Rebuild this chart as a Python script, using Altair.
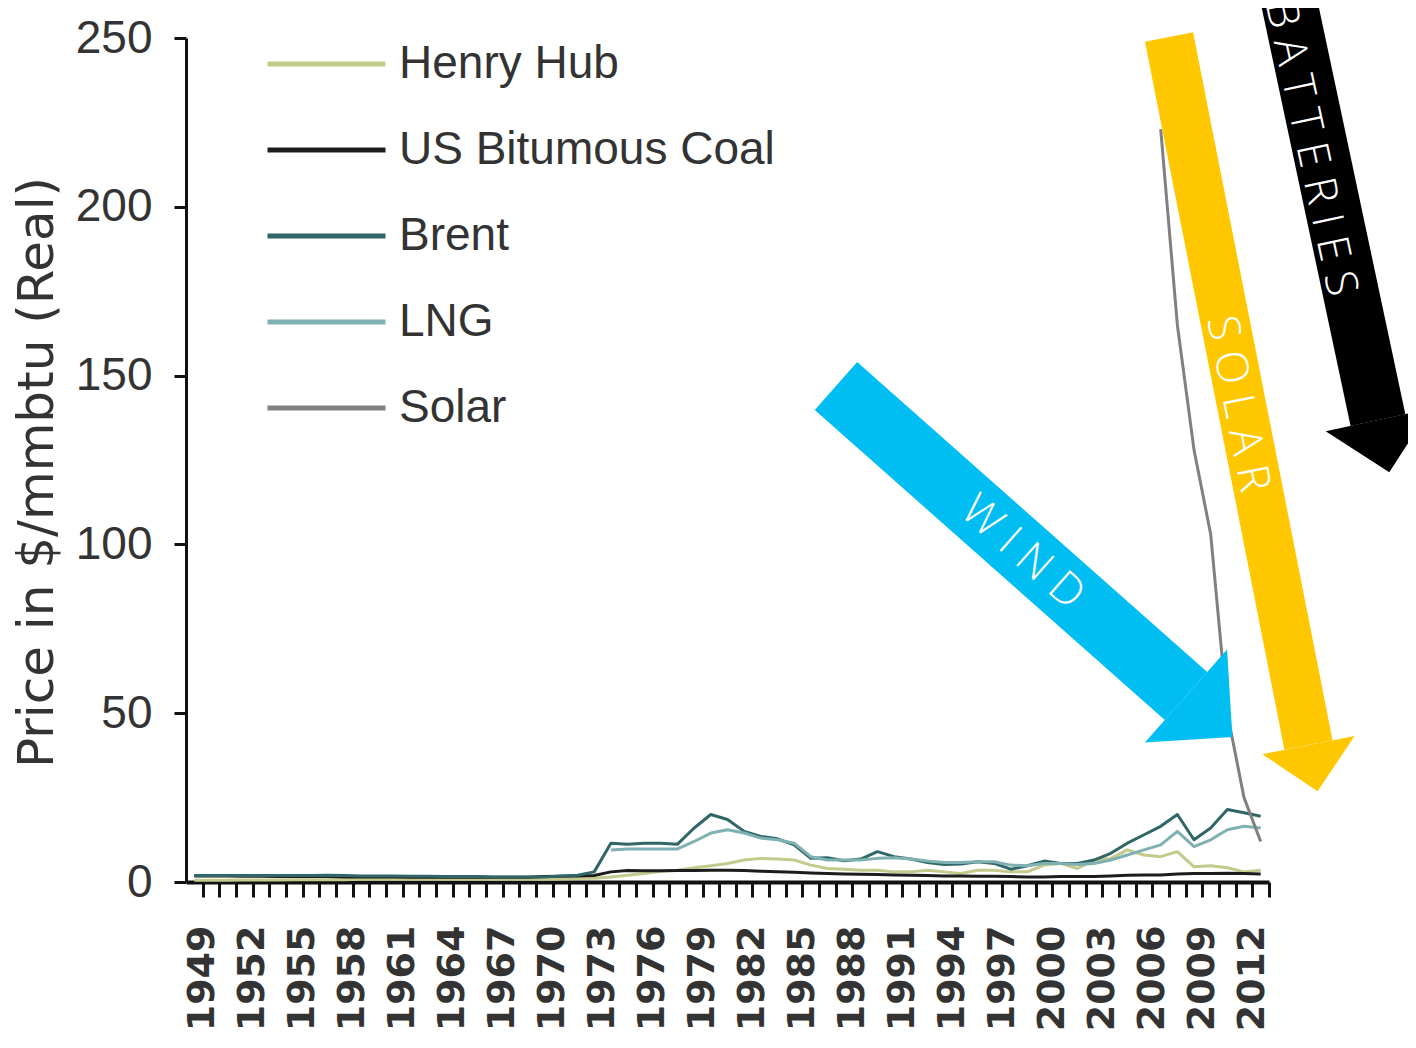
import altair as alt
import pandas as pd

# ---------------- data ----------------
years = list(range(1949, 2014))

henry_hub = [0.5, 0.5, 0.5, 0.6, 0.6, 0.6, 0.7, 0.7, 0.7, 0.7, 0.8,
             0.8, 0.8, 0.8, 0.8, 0.8, 0.8, 0.8, 0.8, 0.8, 0.8,
             0.8, 0.9, 1.0, 1.1, 1.5, 2.0, 2.5, 3.2, 3.5, 4.2,
             4.8, 5.5, 6.5, 7.0, 6.8, 6.5, 5.0, 4.0, 3.8, 3.5,
             3.5, 3.0, 3.0, 3.5, 3.0, 2.5, 3.5, 3.5, 3.0, 3.0,
             5.0, 5.5, 4.0, 6.5, 7.0, 9.5, 8.0, 7.5, 9.0, 4.5,
             4.8, 4.2, 3.0, 3.5]

coal = [1.8, 1.8, 1.8, 1.7, 1.7, 1.6, 1.6, 1.6, 1.6, 1.5, 1.5,
        1.5, 1.5, 1.4, 1.4, 1.4, 1.4, 1.4, 1.4, 1.4, 1.4,
        1.6, 1.7, 1.8, 1.9, 3.0, 3.4, 3.3, 3.3, 3.4, 3.4,
        3.5, 3.5, 3.4, 3.2, 3.0, 2.9, 2.7, 2.5, 2.4, 2.3,
        2.2, 2.1, 2.0, 1.9, 1.8, 1.8, 1.7, 1.7, 1.6, 1.5,
        1.5, 1.6, 1.6, 1.6, 1.8, 2.0, 2.1, 2.1, 2.4, 2.5,
        2.5, 2.6, 2.5, 2.4]

brent = [1.9, 1.9, 1.9, 1.9, 1.9, 1.9, 1.9, 1.9, 2.0, 1.9, 1.8,
         1.8, 1.8, 1.7, 1.7, 1.6, 1.6, 1.6, 1.5, 1.5, 1.5,
         1.5, 1.8, 2.0, 3.0, 11.5, 11.2, 11.5, 11.5, 11.2, 16.0,
         20.0, 18.5, 15.0, 13.5, 12.8, 11.0, 7.0, 7.2, 6.3, 6.8,
         9.0, 7.5, 6.8, 5.8, 5.2, 5.3, 6.0, 5.5, 3.8, 4.8,
         6.2, 5.5, 5.5, 6.5, 8.5, 11.5, 14.0, 16.5, 20.0, 12.5,
         16.0, 21.5, 20.5, 19.5]

lng = [None] * 25 + [9.5, 9.8, 9.8, 9.8, 9.8, 12.0,
                     14.5, 15.5, 14.5, 13.0, 12.5, 11.5, 7.5, 6.5, 6.5, 6.5,
                     7.0, 7.2, 6.8, 6.2, 5.8, 5.8, 6.0, 6.0, 5.0, 4.8,
                     5.5, 5.5, 5.2, 5.5, 6.5, 8.0, 9.5, 11.0, 15.0, 10.5,
                     12.5, 15.5, 16.5, 16.0]

solar = [None] * 58 + [223, 165, 128, 103, 50, 25, 12]

series_names = ["Henry Hub", "US Bitumous Coal", "Brent", "LNG", "Solar"]
series_values = [henry_hub, coal, brent, lng, solar]
series_colors = ["#c4c98c", "#1c1c1c", "#2f6668", "#7fb0b2", "#808080"]

# annotation arrows (positions in data units: year, $/mmbtu)
arrow_names = ["WIND", "SOLAR", "BATTERIES"]
arrow_colors = ["#00BEF2", "#FFC700", "#000000"]
arrow_start_year = [1987.51, 2007.50, 2014.06]
arrow_start_val = [146.9, 250.3, 275.7]
arrow_end_year = [2008.52, 2015.87, 2020.04]
arrow_end_val = [55.1, 40.6, 136.8]
arrow_head_year = [2009.91, 2016.14, 2020.38]
arrow_head_val = [49.0, 33.7, 129.1]
arrow_angle = [41.5, 78.9, 77.8]
arrow_label_year = [1998.68, 2011.58, 2015.96]
arrow_label_val = [97.5, 141.6, 217.4]

shaft_widths = [64, 49, 56]
head_sizes = [124 ** 2, 94 ** 2, 107 ** 2]

# ---------------- tables ----------------
rows = []
for name, vals in zip(series_names, series_values):
    for yr, v in zip(years, vals):
        if v is not None:
            rows.append({"year": yr, "price": v, "series": name})
df = pd.DataFrame(rows)

arrows = pd.DataFrame({
    "name": arrow_names,
    "label": ["\u00a0".join(list(n)) for n in arrow_names],
    "color": arrow_colors,
    "x1": arrow_start_year, "y1": arrow_start_val,
    "x2": arrow_end_year, "y2": arrow_end_val,
    "hx": arrow_head_year, "hy": arrow_head_val,
    "angle": arrow_angle,
    "lx": arrow_label_year, "ly": arrow_label_val,
    "w": shaft_widths, "hs": head_sizes,
})

SANS = "Liberation Sans, Arial, sans-serif"
YTITLE = "Price in $/mmbtu (Real)"
xscale = alt.Scale(domain=[1948.5, 2013.5], nice=False, zero=False)
yscale = alt.Scale(domain=[0, 250], nice=False, zero=False)

x_axis = alt.Axis(
    values=[y + 0.5 for y in years],
    labelExpr="(datum.value - 1949.5) % 3 == 0 ? '' + floor(datum.value) : ''",
    labelAngle=270, labelAlign="right", labelBaseline="middle",
    labelFont="DejaVu Sans", labelFontSize=38, labelFontWeight="bold",
    labelColor="#333333", labelPadding=28, labelOverlap=False,
    labelFlush=False, labelBound=False,
    tickSize=15, tickWidth=3, tickColor="#111111",
    domainColor="#111111", domainWidth=4, grid=False, title="",
)
y_axis = alt.Axis(
    values=[0, 50, 100, 150, 200, 250],
    labelFont=SANS, labelFontSize=46, labelColor="#333333",
    labelPadding=22, labelFlush=False,
    tickSize=12, tickWidth=3, tickColor="#111111",
    domainColor="#111111", domainWidth=3, grid=False,
    title=YTITLE, titleFont="DejaVu Sans",
    titleFontSize=50, titleFontWeight="normal", titleColor="#333333",
    titleAngle=270, titleBaseline="bottom", titleAlign="center",
    titleX=-124, titleY=434,
)


def xenc(field):
    return alt.X(field, scale=xscale, axis=x_axis, title="")


def yenc(field):
    return alt.Y(field, scale=yscale, axis=y_axis, title=YTITLE)


lines = alt.Chart(df).mark_line(strokeWidth=3, strokeJoin="round").encode(
    x=xenc("year:Q"),
    y=yenc("price:Q"),
    color=alt.Color(
        "series:N", sort=series_names,
        scale=alt.Scale(domain=series_names, range=series_colors),
        legend=alt.Legend(
            title=None, orient="none", legendX=79, legendY=-4,
            direction="vertical", symbolType="stroke", symbolSize=13924,
            symbolStrokeWidth=5, clipHeight=60, rowPadding=26,
            labelFont=SANS, labelFontSize=46, labelColor="#333333",
            labelOffset=11, labelLimit=700,
        ),
    ),
)

shafts = alt.Chart(arrows).mark_rule(strokeCap="butt").encode(
    x=xenc("x1:Q"),
    y=yenc("y1:Q"),
    x2="x2:Q", y2="y2:Q",
    color=alt.Color("color:N", scale=None),
    strokeWidth=alt.StrokeWidth("w:Q", scale=None),
)

heads = alt.Chart(arrows).mark_point(
    filled=True, opacity=1, strokeWidth=0,
    shape="M-0.5,-1L0.5,0L-0.5,1Z",
).encode(
    x=xenc("hx:Q"),
    y=yenc("hy:Q"),
    color=alt.Color("color:N", scale=None),
    size=alt.Size("hs:Q", scale=None),
    angle=alt.Angle("angle:Q", scale=None),
)

labels = alt.Chart(arrows).mark_text(
    font="Open Sans", fontSize=44, fontWeight=300, color="#ffffff",
    align="center", baseline="middle",
).encode(
    x=xenc("lx:Q"),
    y=yenc("ly:Q"),
    text="label:N",
    angle=alt.Angle("angle:Q", scale=None),
)

chart = alt.layer(lines, shafts, heads, labels).properties(
    width=1083, height=844,
    autosize=alt.AutoSizeParams(type="none"),
    padding={"left": 178, "top": 30, "right": 139, "bottom": 150},
    background="white",
).configure_view(strokeWidth=0)

chart.save("out.html", embed_options={"renderer": "svg", "actions": False})
